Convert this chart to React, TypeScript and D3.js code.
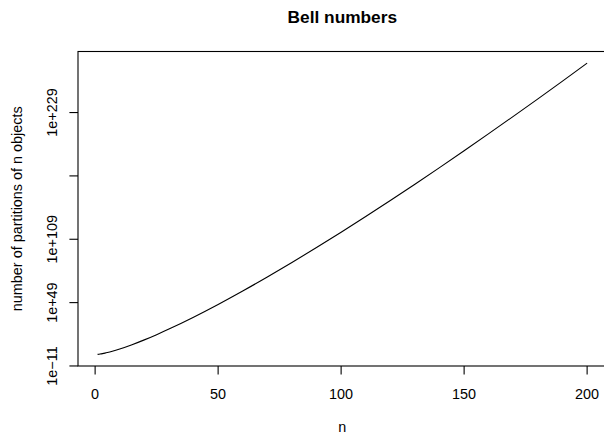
import React, { useEffect, useRef } from "react";
import * as d3 from "d3";

// n and log10 of the Bell number B(n)
const nValues = [1, 2, 3, 4, 5, 7, 10, 15, 20, 25, 30, 40, 50, 60, 70, 80, 90, 100, 110, 120, 130, 140, 150, 160, 170, 180, 190, 200];
const log10Bell = [
  0, 0.301, 0.699, 1.176, 1.716, 2.943, 5.064, 9.141, 13.714, 18.666, 23.928, 35.197, 47.269, 59.99, 73.27, 87.0,
  101.16, 115.68, 130.54, 145.71, 161.16, 176.87, 192.83, 209.0, 225.4, 242.0, 258.8, 275.79,
];

const xTicks = [0, 50, 100, 150, 200];
const yTickExps = [-11, 49, 109, 169, 229];
const yTickLabels = ["1e\u221211", "1e+49", "1e+109", "", "1e+229"];

const FONT = "'Liberation Sans', Arial, Helvetica, sans-serif";

function renderChart(el: SVGSVGElement) {
  const width = 604;
  const height = 435;
  const left = 78;
  const right = 606.7;
  const top = 51.5;
  const bottom = 366;

  const svg = d3.select(el);
  svg.selectAll("*").remove();
  svg.attr("width", width).attr("height", height);

  svg.append("rect").attr("width", width).attr("height", height).attr("fill", "white");

  // R style 4% padding on both axes
  const xMin = d3.min(nValues)!;
  const xMax = d3.max(nValues)!;
  const xPad = (xMax - xMin) * 0.04;
  const yMin = d3.min(log10Bell)!;
  const yMax = d3.max(log10Bell)!;
  const yPad = (yMax - yMin) * 0.04;

  const x = d3.scaleLinear().domain([xMin - xPad, xMax + xPad]).range([left, right]);
  const y = d3.scaleLinear().domain([yMin - yPad, yMax + yPad]).range([bottom, top]);

  const pts = nValues.map((n, i) => [n, log10Bell[i]] as [number, number]);
  const line = d3
    .line<[number, number]>()
    .x((d) => x(d[0]))
    .y((d) => y(d[1]))
    .curve(d3.curveMonotoneX);

  svg
    .append("path")
    .datum(pts)
    .attr("d", line)
    .attr("fill", "none")
    .attr("stroke", "black")
    .attr("stroke-width", 1.1);

  // box
  svg
    .append("rect")
    .attr("x", left)
    .attr("y", top)
    .attr("width", right - left)
    .attr("height", bottom - top)
    .attr("fill", "none")
    .attr("stroke", "black")
    .attr("stroke-width", 1.1);

  // x axis
  const xAxis = svg.append("g");
  xAxis
    .selectAll("line")
    .data(xTicks)
    .enter()
    .append("line")
    .attr("x1", (d) => x(d))
    .attr("x2", (d) => x(d))
    .attr("y1", bottom)
    .attr("y2", bottom + 8.6)
    .attr("stroke", "black")
    .attr("stroke-width", 1.1);
  xAxis
    .selectAll("text")
    .data(xTicks)
    .enter()
    .append("text")
    .attr("x", (d) => x(d))
    .attr("y", 399.3)
    .attr("text-anchor", "middle")
    .attr("font-family", FONT)
    .attr("font-size", 14.4)
    .text((d) => String(d));

  // y axis
  const yAxis = svg.append("g");
  yAxis
    .selectAll("line")
    .data(yTickExps)
    .enter()
    .append("line")
    .attr("x1", left - 8.6)
    .attr("x2", left)
    .attr("y1", (d) => y(d))
    .attr("y2", (d) => y(d))
    .attr("stroke", "black")
    .attr("stroke-width", 1.1);
  yAxis
    .selectAll("text")
    .data(yTickExps)
    .enter()
    .append("text")
    .attr("transform", (d) => "translate(57.3," + y(d) + ") rotate(-90)")
    .attr("text-anchor", "middle")
    .attr("font-family", FONT)
    .attr("font-size", 14.4)
    .text((d, i) => yTickLabels[i]);

  // titles
  svg
    .append("text")
    .attr("x", (left + right) / 2)
    .attr("y", 22.7)
    .attr("text-anchor", "middle")
    .attr("font-family", FONT)
    .attr("font-size", 17.3)
    .attr("font-weight", "bold")
    .text("Bell numbers");

  svg
    .append("text")
    .attr("x", (left + right) / 2)
    .attr("y", 431.5)
    .attr("text-anchor", "middle")
    .attr("font-family", FONT)
    .attr("font-size", 14.4)
    .text("n");

  svg
    .append("text")
    .attr("transform", "translate(22," + (top + bottom) / 2 + ") rotate(-90)")
    .attr("text-anchor", "middle")
    .attr("font-family", FONT)
    .attr("font-size", 14.4)
    .text("number of partitions of n objects");
}

export default function App() {
  const ref = useRef<SVGSVGElement>(null);
  useEffect(() => {
    if (ref.current) renderChart(ref.current);
  }, []);
  return (
    <div style={{ position: "absolute", left: 0, top: 0 }}>
      <svg ref={ref} style={{ display: "block" }} />
    </div>
  );
}
